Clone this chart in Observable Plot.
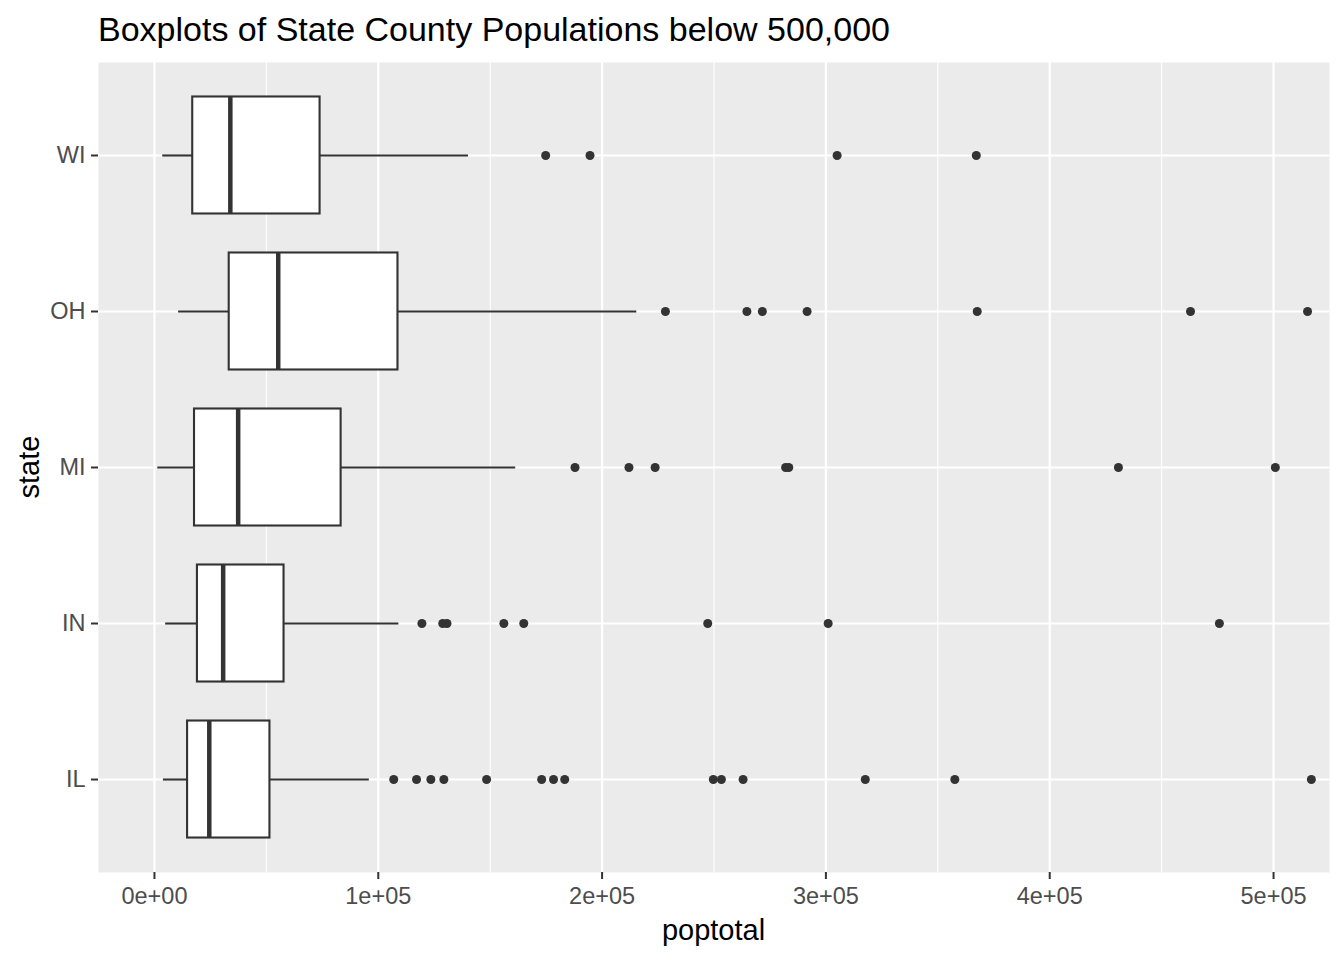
<!DOCTYPE html>
<html>
<head>
<meta charset="utf-8">
<script src="https://cdn.jsdelivr.net/npm/d3@7"></script>
<script src="https://cdn.jsdelivr.net/npm/@observablehq/plot@0.6"></script>
<style>
  html, body { margin: 0; padding: 0; background: #ffffff; }
  #chart svg { display: block; }
</style>
</head>
<body>
<div id="chart"></div>
<script>
// ---- Data ----
const states = ["WI", "OH", "MI", "IN", "IL"];           // top to bottom
const whiskerLow  = [3700, 10800, 1500, 5000, 4000];
const q1          = [17100, 33400, 17900, 19200, 14800];
const median      = [33900, 55300, 37400, 30700, 24500];
const q3          = [74000, 108800, 83400, 57900, 51600];
const whiskerHigh = [140300, 215500, 161400, 109200, 96000];

const outliersWI = [174800, 194600, 305000, 367200];
const outliersOH = [228300, 264700, 271600, 291600, 367600, 462900, 515200];
const outliersMI = [187900, 212000, 223700, 282000, 283400, 430700, 500800];
const outliersIN = [119500, 128800, 130700, 156100, 165000, 247200, 301000, 475800];
const outliersIL = [106900, 117100, 123500, 129300, 148400, 173000, 178300, 183300,
                    249700, 253300, 263000, 317600, 357600, 516900];

const majorTicks = [0, 100000, 200000, 300000, 400000, 500000];
const minorTicks = [50000, 150000, 250000, 350000, 450000];
const tickLabels = ["0e+00", "1e+05", "2e+05", "3e+05", "4e+05", "5e+05"];

const titleText = "Boxplots of State County Populations below 500,000";
const xTitle = "poptotal";
const yTitle = "state";

// ---- Build tables ----
const boxes = states.map((s, i) => ({
  state: s, lo: whiskerLow[i], q1: q1[i], med: median[i], q3: q3[i], hi: whiskerHigh[i]
}));
const outlierLists = {WI: outliersWI, OH: outliersOH, MI: outliersMI, IN: outliersIN, IL: outliersIL};
const outliers = states.flatMap(s => outlierLists[s].map(v => ({state: s, value: v})));

const W = 1344, H = 960;
const font = "'Liberation Sans', Arial, Helvetica, sans-serif";

const chart = Plot.plot({
  width: W,
  height: H,
  marginTop: 62,
  marginBottom: 88,
  marginLeft: 98,
  marginRight: 15,
  style: {fontFamily: font, background: "#ffffff"},
  x: {domain: [-25000, 525000]},
  y: {domain: states, type: "band", paddingInner: 0.25, paddingOuter: 0.221, round: false},
  marks: [
    Plot.frame({fill: "#EBEBEB"}),
    Plot.ruleX(minorTicks, {stroke: "#ffffff", strokeWidth: 1.1}),
    Plot.ruleX(majorTicks, {stroke: "#ffffff", strokeWidth: 2.2}),
    Plot.ruleY(states, {stroke: "#ffffff", strokeWidth: 2.2}),
    Plot.ruleY(boxes, {y: "state", x1: "lo", x2: "q1", stroke: "#333333", strokeWidth: 2.1}),
    Plot.ruleY(boxes, {y: "state", x1: "q3", x2: "hi", stroke: "#333333", strokeWidth: 2.1}),
    Plot.barX(boxes, {y: "state", x1: "q1", x2: "q3", fill: "#ffffff", stroke: "#333333", strokeWidth: 2.1}),
    Plot.tickX(boxes, {y: "state", x: "med", stroke: "#333333", strokeWidth: 4.5}),
    Plot.dot(outliers, {y: "state", x: "value", r: 4.5, fill: "#333333", stroke: null}),
    Plot.axisX(majorTicks, {
      anchor: "bottom",
      tickFormat: (d) => tickLabels[majorTicks.indexOf(d)],
      tickSize: 7, tickPadding: 8,
      fontSize: 23.5, fill: "#4D4D4D", stroke: "#333333", strokeWidth: 2,
      label: null
    }),
    Plot.axisY({
      anchor: "left",
      tickSize: 7, tickPadding: 6,
      fontSize: 23.5, fill: "#4D4D4D", stroke: "#333333", strokeWidth: 2,
      label: null
    })
  ]
});

document.getElementById("chart").appendChild(chart);

// Titles as real text inside the SVG
const svg = d3.select(chart);
svg.append("text")
  .attr("x", 98).attr("y", 41)
  .attr("text-anchor", "start")
  .attr("font-family", font).attr("font-size", 34).attr("fill", "#000000")
  .text(titleText);
svg.append("text")
  .attr("x", 98 + (W - 15 - 98) / 2).attr("y", 940)
  .attr("text-anchor", "middle")
  .attr("font-family", font).attr("font-size", 29).attr("fill", "#000000")
  .text(xTitle);
svg.append("text")
  .attr("transform", `translate(39, ${62 + (H - 88 - 62) / 2}) rotate(-90)`)
  .attr("text-anchor", "middle")
  .attr("font-family", font).attr("font-size", 29).attr("fill", "#000000")
  .text(yTitle);
</script>
</body>
</html>
